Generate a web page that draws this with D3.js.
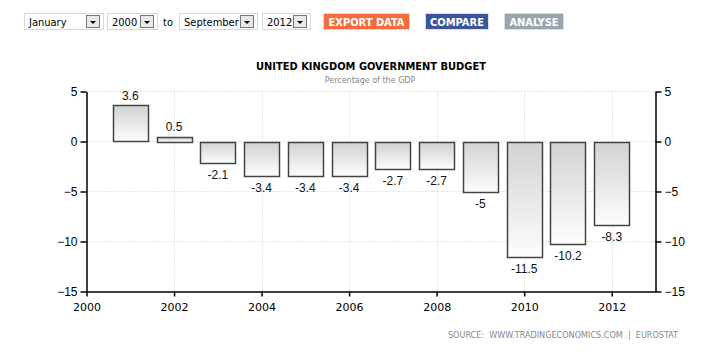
<!DOCTYPE html>
<html>
<head>
<meta charset="utf-8">
<script src="https://cdn.jsdelivr.net/npm/d3@7"></script>
<style>
  body { margin: 0; background: #fff; }
  svg { display: block; }
</style>
</head>
<body>
<div id="chart"></div>
<script>
const years = [2001, 2002, 2003, 2004, 2005, 2006, 2007, 2008, 2009, 2010, 2011, 2012];
const budget = [3.6, 0.5, -2.1, -3.4, -3.4, -3.4, -2.7, -2.7, -5, -11.5, -10.2, -8.3];
const yTicks = [5, 0, -5, -10, -15];
const xTicks = [2000, 2002, 2004, 2006, 2008, 2010, 2012];
const selects = [
  {label: 'January', x: 24, w: 79},
  {label: '2000', x: 107, w: 50},
  {label: 'September', x: 179, w: 78},
  {label: '2012', x: 262, w: 48}
];
const buttons = [
  {label: 'EXPORT DATA', x: 323, w: 86, color: '#f96b3d'},
  {label: 'COMPARE', x: 425, w: 63, color: '#3b559a'},
  {label: 'ANALYSE', x: 504, w: 59, color: '#97a6ae'}
];

const W = 714, H = 361;
const plotLeft = 86.5, plotRight = 655.5, plotTop = 91.5, plotBottom = 291.5;

const svg = d3.select('#chart').append('svg').attr('width', W).attr('height', H);

// top controls
const ctrl = svg.append('g').attr('font-family', 'DejaVu Sans Condensed, DejaVu Sans, sans-serif');
selects.forEach(function(s) {
  ctrl.append('rect').attr('x', s.x + 0.5).attr('y', 13.5).attr('width', s.w).attr('height', 16)
    .attr('fill', '#fff').attr('stroke', '#d8d8d8');
  ctrl.append('text').text(s.label).attr('x', s.x + 5).attr('y', 25.5)
    .attr('font-size', 11).attr('fill', '#000');
  const bx = s.x + s.w - 17;
  ctrl.append('rect').attr('x', bx + 0.5).attr('y', 15.5).attr('width', 13).attr('height', 12)
    .attr('fill', '#e8e8e8').attr('stroke', '#777');
  ctrl.append('path').attr('d', 'M' + (bx + 4) + ',21 h6 l-3,3 z').attr('fill', '#000');
});
ctrl.append('text').text('to').attr('x', 163).attr('y', 25.5).attr('font-size', 11).attr('fill', '#000');
buttons.forEach(function(b) {
  ctrl.append('rect').attr('x', b.x + 0.5).attr('y', 13.5).attr('width', b.w).attr('height', 16)
    .attr('fill', b.color).attr('stroke', '#ddd');
  ctrl.append('text').text(b.label).attr('x', b.x + b.w / 2 + 0.5).attr('y', 25.5)
    .attr('text-anchor', 'middle').attr('font-size', 11).attr('font-weight', 'bold').attr('fill', '#fff');
});

// titles
svg.append('text').text('UNITED KINGDOM GOVERNMENT BUDGET')
  .attr('x', 371).attr('y', 70).attr('text-anchor', 'middle')
  .attr('font-family', 'DejaVu Sans Condensed, DejaVu Sans, sans-serif')
  .attr('font-size', 11).attr('font-weight', 'bold').attr('fill', '#000');
svg.append('text').text('Percentage of the GDP')
  .attr('x', 370).attr('y', 83).attr('text-anchor', 'middle')
  .attr('font-family', 'DejaVu Sans, sans-serif')
  .attr('font-size', 8).attr('fill', '#888');

const x = d3.scaleLinear().domain([2000, 2013]).range([plotLeft, plotRight]);
const y = d3.scaleLinear().domain([5, -15]).range([plotTop, plotBottom]);

// grid
const grid = svg.append('g').attr('stroke', '#ccc').attr('stroke-dasharray', '1,2');
grid.selectAll('line.h').data(yTicks.filter(d => d > -15)).enter().append('line')
  .attr('x1', plotLeft).attr('x2', plotRight).attr('y1', d => y(d)).attr('y2', d => y(d));
grid.selectAll('line.v').data(xTicks.filter(d => d > 2000)).enter().append('line')
  .attr('x1', d => Math.round(x(d)) + 0.5).attr('x2', d => Math.round(x(d)) + 0.5)
  .attr('y1', plotTop).attr('y2', plotBottom);

// gradient
const grad = svg.append('defs').append('linearGradient').attr('id', 'barGrad')
  .attr('x1', 0).attr('y1', 0).attr('x2', 0).attr('y2', 1);
grad.append('stop').attr('offset', '0%').attr('stop-color', '#d2d2d2');
grad.append('stop').attr('offset', '100%').attr('stop-color', '#fdfdfd');

// bars
const barW = 35;
svg.append('g').selectAll('rect').data(budget).enter().append('rect')
  .attr('x', (d, i) => Math.round(x(years[i]) - barW / 2) + 0.5)
  .attr('y', d => Math.round(y(Math.max(0, d))) + 0.5)
  .attr('width', barW)
  .attr('height', d => Math.abs(y(d) - y(0)))
  .attr('fill', 'url(#barGrad)')
  .attr('stroke', '#444').attr('stroke-width', 1.5);

svg.append('g').selectAll('text').data(budget).enter().append('text')
  .text(d => d)
  .attr('x', (d, i) => x(years[i]))
  .attr('y', d => d >= 0 ? y(d) - 6 : y(d) + 16)
  .attr('text-anchor', 'middle')
  .attr('font-family', 'Liberation Sans, Arial, sans-serif')
  .attr('font-size', 12).attr('fill', '#111');

// axes
const axisFont = 'Liberation Sans, Arial, sans-serif';
const yLeft = svg.append('g').attr('transform', 'translate(' + plotLeft + ',0)')
  .call(d3.axisLeft(y).tickValues(yTicks).tickSize(6).tickSizeOuter(0));
const yRight = svg.append('g').attr('transform', 'translate(' + plotRight + ',0)')
  .call(d3.axisRight(y).tickValues(yTicks).tickSize(6).tickSizeOuter(0));
const xAxis = svg.append('g').attr('transform', 'translate(0,' + plotBottom + ')')
  .call(d3.axisBottom(x).tickValues(xTicks).tickFormat(d3.format('d')).tickSize(5).tickSizeOuter(0));

[yLeft, yRight].forEach(function(g) {
  g.selectAll('text').attr('font-family', axisFont).attr('font-size', 12).attr('fill', '#000');
});
xAxis.selectAll('text').attr('font-family', 'DejaVu Sans, sans-serif').attr('font-size', 11)
  .attr('fill', '#000').attr('dy', '1.05em');
[yLeft, yRight, xAxis].forEach(function(g) {
  g.selectAll('path, line').attr('stroke', '#000').attr('stroke-width', 1.5);
});

// source
svg.append('text').text('SOURCE:  WWW.TRADINGECONOMICS.COM  |  EUROSTAT')
  .attr('x', 678).attr('y', 338).attr('text-anchor', 'end')
  .attr('xml:space', 'preserve')
  .attr('font-family', 'DejaVu Sans Condensed, DejaVu Sans, sans-serif')
  .attr('font-size', 9).attr('fill', '#888');
</script>
</body>
</html>
